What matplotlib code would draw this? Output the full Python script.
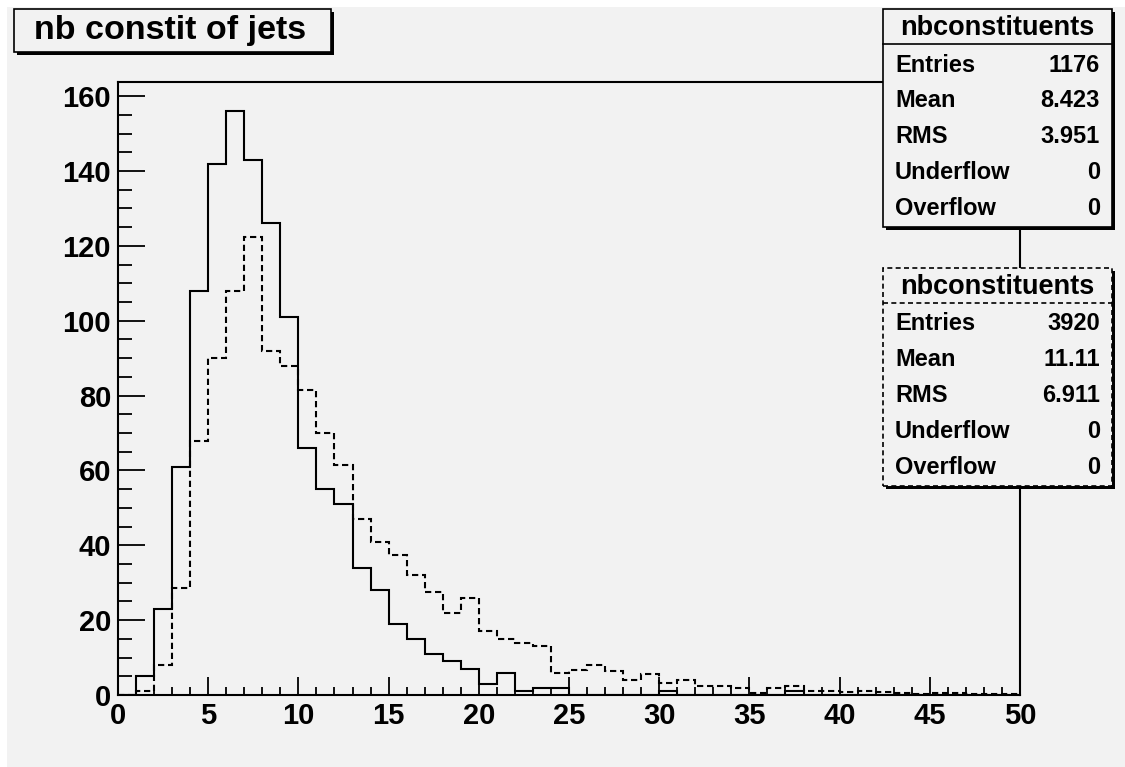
import numpy as np
import matplotlib.pyplot as plt
from matplotlib.patches import Rectangle
from matplotlib.lines import Line2D

plt.rcParams['font.family'] = ['Liberation Sans', 'DejaVu Sans']
plt.rcParams['font.weight'] = 'bold'

# bin contents, 50 bins of width 1 from 0 to 50
bin_edges = np.arange(0, 51)
solid = [0, 5, 23, 61, 108, 142, 156, 143, 126, 101,
         66, 55, 51, 34, 28, 19, 15, 11, 9, 7,
         3, 6, 1, 2, 2, 0, 0, 0, 0, 0,
         1, 0, 0, 0, 0, 0, 0, 1, 0, 0,
         0, 0, 0, 0, 0, 0, 0, 0, 0, 0]
dashed = [0, 1.2, 8, 28.5, 68, 90, 108, 122.5, 92, 88,
          81.5, 70, 61.5, 47, 41, 37.5, 32, 27.5, 22, 26,
          17, 15, 14, 13, 6, 6.8, 8, 6.5, 4, 5.7,
          3.1, 4.1, 2.5, 2.5, 1.9, 0.5, 1.9, 2.3, 1.1, 1.1,
          0.7, 1.1, 0.9, 0.5, 0.3, 0.6, 0.6, 0.3, 0.3, 0.3]

title = 'nb constit of jets'
hist_name = 'nbconstituents'
stat_labels = ['Entries', 'Mean', 'RMS', 'Underflow', 'Overflow']
stats_solid = ['1176', '8.423', '3.951', '0', '0']
stats_dashed = ['3920', '11.11', '6.911', '0', '0']

W, H = 1125, 767
BG = '#f2f2f2'
fig = plt.figure(figsize=(W / 100, H / 100), dpi=100, facecolor='white')


def fx(x):
    return x / W


def fy(y):
    return 1 - y / H


# grey canvas
fig.patches.append(Rectangle((fx(7), 0), 1 - fx(7), fy(7), transform=fig.transFigure,
                             facecolor=BG, edgecolor='none', zorder=-1))

ax = fig.add_axes([fx(118), fy(695), fx(1020) - fx(118), fy(82) - fy(695)])
ax.set_facecolor(BG)
ax.stairs(solid, bin_edges, color='black', lw=1.5)
ax.stairs(dashed, bin_edges, color='black', lw=1.5, linestyle=(0, (3, 1.8)))
ax.set_xlim(0, 50)
ax.set_ylim(0, 163.8)

for s in ax.spines.values():
    s.set_linewidth(1.5)
ax.set_xticks(np.arange(0, 51, 5))
ax.set_xticks(np.arange(0, 51, 1), minor=True)
ax.set_yticks(np.arange(0, 161, 20))
ax.set_yticks(np.arange(0, 161, 5), minor=True)
ax.tick_params(axis='both', which='both', direction='in', width=1.3, labelsize=21)
ax.tick_params(axis='x', which='major', length=13, pad=5)
ax.tick_params(axis='x', which='minor', length=6)
ax.tick_params(axis='y', which='major', length=19.5, pad=5)
ax.tick_params(axis='y', which='minor', length=10)


def draw_box(x0, y0, x1, y1, ls='-'):
    shadow = Rectangle((fx(x0 + 3), fy(y1 + 3)), fx(x1) - fx(x0), fy(y0) - fy(y1),
                       transform=fig.transFigure, facecolor='black', edgecolor='none', zorder=4)
    box = Rectangle((fx(x0), fy(y1)), fx(x1) - fx(x0), fy(y0) - fy(y1),
                    transform=fig.transFigure, facecolor=BG, edgecolor='black',
                    lw=1.2, linestyle=ls, zorder=5)
    fig.patches.extend([shadow, box])


# title box
draw_box(14, 9, 331, 52)
fig.text(fx(170), fy(31), title, ha='center', va='center', fontsize=24.5, zorder=6)


def stats_box(y0, values, ls):
    x0, x1 = 883, 1112
    draw_box(x0, y0, x1, y0 + 218, ls)
    fig.lines.append(Line2D([fx(x0), fx(x1)], [fy(y0 + 35), fy(y0 + 35)],
                            transform=fig.transFigure, color='black', lw=1.2,
                            linestyle=ls, zorder=6))
    fig.text(fx((x0 + x1) / 2), fy(y0 + 19), hist_name, ha='center', va='center',
             fontsize=19.5, zorder=6)
    for i, (lab, val) in enumerate(zip(stat_labels, values)):
        yy = y0 + 56 + 35.8 * i
        fig.text(fx(895), fy(yy), lab, ha='left', va='center', fontsize=17, zorder=6)
        fig.text(fx(1100), fy(yy), val, ha='right', va='center', fontsize=17, zorder=6)


stats_box(9, stats_solid, '-')
stats_box(268, stats_dashed, (0, (3, 2)))

fig.savefig('out.png', dpi=100, facecolor=fig.get_facecolor())
